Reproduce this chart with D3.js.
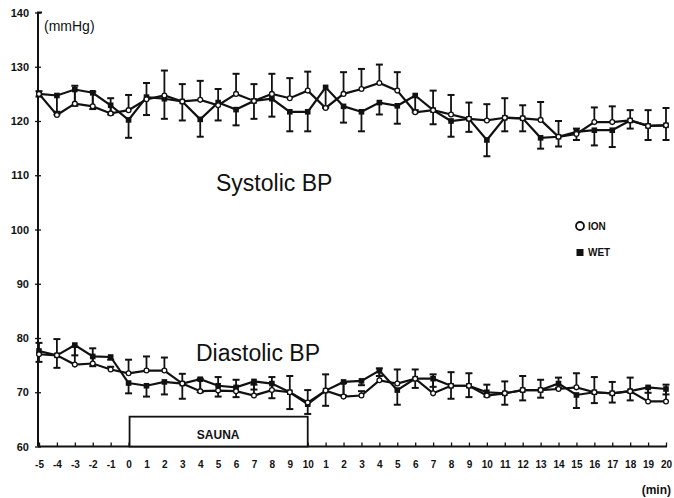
<!DOCTYPE html>
<html>
<head>
<meta charset="utf-8">
<script src="https://cdn.jsdelivr.net/npm/d3@7"></script>
<style>
  body { margin: 0; background: #fff; }
  svg text { font-family: "Liberation Sans", Arial, sans-serif; fill: #111; }
</style>
</head>
<body>
<div id="chart"></div>
<script>
// time points: 5 min before, 10 min sauna, 20 min after
var xLabels = ["-5","-4","-3","-2","-1","0","1","2","3","4","5","6","7","8","9","10",
  "1","2","3","4","5","6","7","8","9","10","11","12","13","14","15","16","17","18","19","20"];

var yTicks = [60, 70, 80, 90, 100, 110, 120, 130, 140];

// systolic BP (mmHg)
var sysIon = [125.0,121.1,123.2,122.7,121.4,122.0,124.0,124.7,123.6,123.9,122.9,125.0,123.7,125.0,124.2,125.6,
  122.4,125.0,125.9,127.0,125.6,121.6,122.0,121.2,120.4,120.1,120.6,120.5,120.2,117.1,117.6,119.8,119.8,120.1,119.1,119.2];
var sysWet = [125.0,124.7,125.8,125.2,122.9,120.2,124.4,124.1,123.6,120.3,123.4,122.1,123.7,124.1,121.7,121.7,
  126.2,122.7,121.7,123.4,122.8,124.7,122.0,120.0,120.4,116.5,120.6,120.5,116.9,117.1,118.0,118.3,118.3,120.1,119.1,119.2];
var sysIonSE = [0.5,0.6,3.3,2.7,2.8,2.8,3.0,4.6,3.2,3.5,3.0,3.7,3.1,3.7,3.7,3.5,
  0.3,4.0,3.7,3.4,3.4,0.4,3.6,3.6,3.0,3.0,3.6,2.4,3.3,2.9,1.0,2.7,2.9,1.9,2.9,3.2];
var sysWetSE = [0.5,3.5,3.0,3.0,1.7,3.3,3.3,3.7,3.5,3.2,3.3,2.9,3.3,3.3,3.6,3.6,
  3.8,3.0,3.6,2.2,3.3,3.1,2.6,2.9,2.4,3.0,2.5,2.4,2.0,1.8,1.5,2.8,3.1,1.5,2.6,2.7];

// diastolic BP (mmHg)
var diaIon = [77.0,76.8,75.1,75.3,74.2,73.5,74.0,74.0,71.6,70.2,70.3,70.2,69.4,70.4,70.0,68.1,
  70.3,69.2,69.4,72.2,71.6,72.5,69.8,71.2,71.2,69.4,69.8,70.4,70.4,70.6,70.9,70.0,69.8,70.2,68.3,68.3];
var diaWet = [77.6,76.8,78.7,76.6,76.5,71.7,71.2,71.9,71.6,72.4,71.2,70.9,72.0,71.6,70.0,67.8,
  70.3,71.9,72.1,74.0,70.4,72.5,72.5,71.2,71.2,70.0,69.8,70.4,70.4,71.6,69.5,70.0,69.8,70.2,70.9,70.6];
var diaIonSE = [2.1,3.0,3.3,2.8,0.5,2.5,2.6,2.4,1.8,2.3,2.5,2.1,2.0,2.4,3.0,2.3,
  3.0,2.5,0.8,2.2,2.6,1.7,3.5,2.5,2.3,2.0,2.2,2.6,1.9,2.1,2.6,2.8,2.1,2.5,2.5,3.1];
var diaWetSE = [2.0,2.3,1.9,1.8,0.5,1.9,2.0,2.3,2.8,2.4,2.0,1.8,1.5,2.7,3.1,1.8,
  2.8,2.5,0.8,1.0,2.7,1.7,1.5,2.4,2.1,0.8,2.1,1.9,1.4,0.8,2.4,2.0,1.7,1.7,1.0,1.0];

var saunaStart = 5, saunaEnd = 15, saunaTop = 65.5;

var width = 674, height = 498;

var svg = d3.select("#chart").append("svg")
    .attr("width", width)
    .attr("height", height);

var x = d3.scalePoint()
    .domain(d3.range(xLabels.length))
    .range([39, 666]);

var y = d3.scaleLinear()
    .domain([60, 140])
    .range([446.5, 12.5]);

// axes
var xAxis = d3.axisBottom(x)
    .tickSize(-4)
    .tickPadding(14)
    .tickFormat(function (i) { return xLabels[i]; });

var gx = svg.append("g")
    .attr("transform", "translate(0," + y(60) + ")")
    .call(xAxis);
gx.select(".domain").attr("d", "M38,0H667").attr("stroke", "#111").attr("stroke-width", 2);
gx.selectAll(".tick line").attr("stroke", "#111").attr("stroke-width", 1.3);
gx.selectAll(".tick text")
    .attr("font-size", 10)
    .attr("font-weight", "bold");

var yAxis = d3.axisLeft(y)
    .tickValues(yTicks)
    .tickSize(3)
    .tickPadding(6);

var gy = svg.append("g")
    .attr("transform", "translate(38,0)")
    .call(yAxis);
gy.select(".domain").attr("d", "M4," + y(140) + "H0V" + y(60)).attr("stroke", "#111").attr("stroke-width", 2).attr("fill", "none");
gy.selectAll(".tick line").attr("x2", 3).attr("x1", -3).attr("stroke", "#111").attr("stroke-width", 1.3);
gy.selectAll(".tick text")
    .attr("font-size", 11)
    .attr("font-weight", "bold");

svg.append("text")
    .attr("x", 44)
    .attr("y", 31)
    .attr("font-size", 14)
    .text("(mmHg)");

svg.append("text")
    .attr("x", 671)
    .attr("y", 494)
    .attr("text-anchor", "end")
    .attr("font-size", 12)
    .attr("font-weight", "bold")
    .text("(min)");

// sauna box
svg.append("rect")
    .attr("x", x(saunaStart) + 1)
    .attr("y", y(saunaTop))
    .attr("width", x(saunaEnd) - x(saunaStart) - 1)
    .attr("height", y(60) - y(saunaTop))
    .attr("fill", "#fff")
    .attr("stroke", "#111")
    .attr("stroke-width", 1.8);

svg.append("text")
    .attr("x", (x(saunaStart) + x(saunaEnd)) / 2)
    .attr("y", y(60) - 8)
    .attr("text-anchor", "middle")
    .attr("font-size", 12)
    .attr("font-weight", "bold")
    .text("SAUNA");

// labels
svg.append("text")
    .attr("x", 216)
    .attr("y", 191)
    .attr("font-size", 23)
    .text("Systolic BP");

svg.append("text")
    .attr("x", 196)
    .attr("y", 361)
    .attr("font-size", 23)
    .text("Diastolic BP");

var line = d3.line()
    .x(function (d, i) { return x(i); })
    .y(function (d) { return y(d); });

function drawSeries(values, se, dir, marker) {
    var g = svg.append("g");
    // error bars: ION drawn upward, WET drawn downward
    var bars = g.selectAll(".bar")
        .data(values)
        .enter().append("g");
    bars.append("line")
        .attr("x1", function (d, i) { return x(i); })
        .attr("x2", function (d, i) { return x(i); })
        .attr("y1", function (d) { return y(d); })
        .attr("y2", function (d, i) { return y(d + dir * se[i]); })
        .attr("stroke", "#111")
        .attr("stroke-width", 1.8);
    bars.append("line")
        .attr("x1", function (d, i) { return x(i) - 3.5; })
        .attr("x2", function (d, i) { return x(i) + 3.5; })
        .attr("y1", function (d, i) { return y(d + dir * se[i]); })
        .attr("y2", function (d, i) { return y(d + dir * se[i]); })
        .attr("stroke", "#111")
        .attr("stroke-width", 2);

    g.append("path")
        .datum(values)
        .attr("d", line)
        .attr("fill", "none")
        .attr("stroke", "#111")
        .attr("stroke-width", 2.2);

    if (marker == "circle") {
        g.selectAll("circle")
            .data(values)
            .enter().append("circle")
            .attr("cx", function (d, i) { return x(i); })
            .attr("cy", function (d) { return y(d); })
            .attr("r", 2.4)
            .attr("fill", "#fff")
            .attr("stroke", "#111")
            .attr("stroke-width", 1.3);
    } else {
        g.selectAll("rect")
            .data(values)
            .enter().append("rect")
            .attr("x", function (d, i) { return x(i) - 2.8; })
            .attr("y", function (d) { return y(d) - 2.8; })
            .attr("width", 5.6)
            .attr("height", 5.6)
            .attr("fill", "#111");
    }
}

drawSeries(sysWet, sysWetSE, -1, "square");
drawSeries(sysIon, sysIonSE, 1, "circle");
drawSeries(diaWet, diaWetSE, -1, "square");
drawSeries(diaIon, diaIonSE, 1, "circle");

// legend
var legend = svg.append("g");
legend.append("circle")
    .attr("cx", 580)
    .attr("cy", 226)
    .attr("r", 4)
    .attr("fill", "#fff")
    .attr("stroke", "#111")
    .attr("stroke-width", 1.8);
legend.append("text")
    .attr("x", 588)
    .attr("y", 230)
    .attr("font-size", 10)
    .attr("font-weight", "bold")
    .text("ION");
legend.append("rect")
    .attr("x", 576.5)
    .attr("y", 249)
    .attr("width", 7)
    .attr("height", 7)
    .attr("fill", "#111");
legend.append("text")
    .attr("x", 588)
    .attr("y", 256)
    .attr("font-size", 10)
    .attr("font-weight", "bold")
    .text("WET");
</script>
</body>
</html>
